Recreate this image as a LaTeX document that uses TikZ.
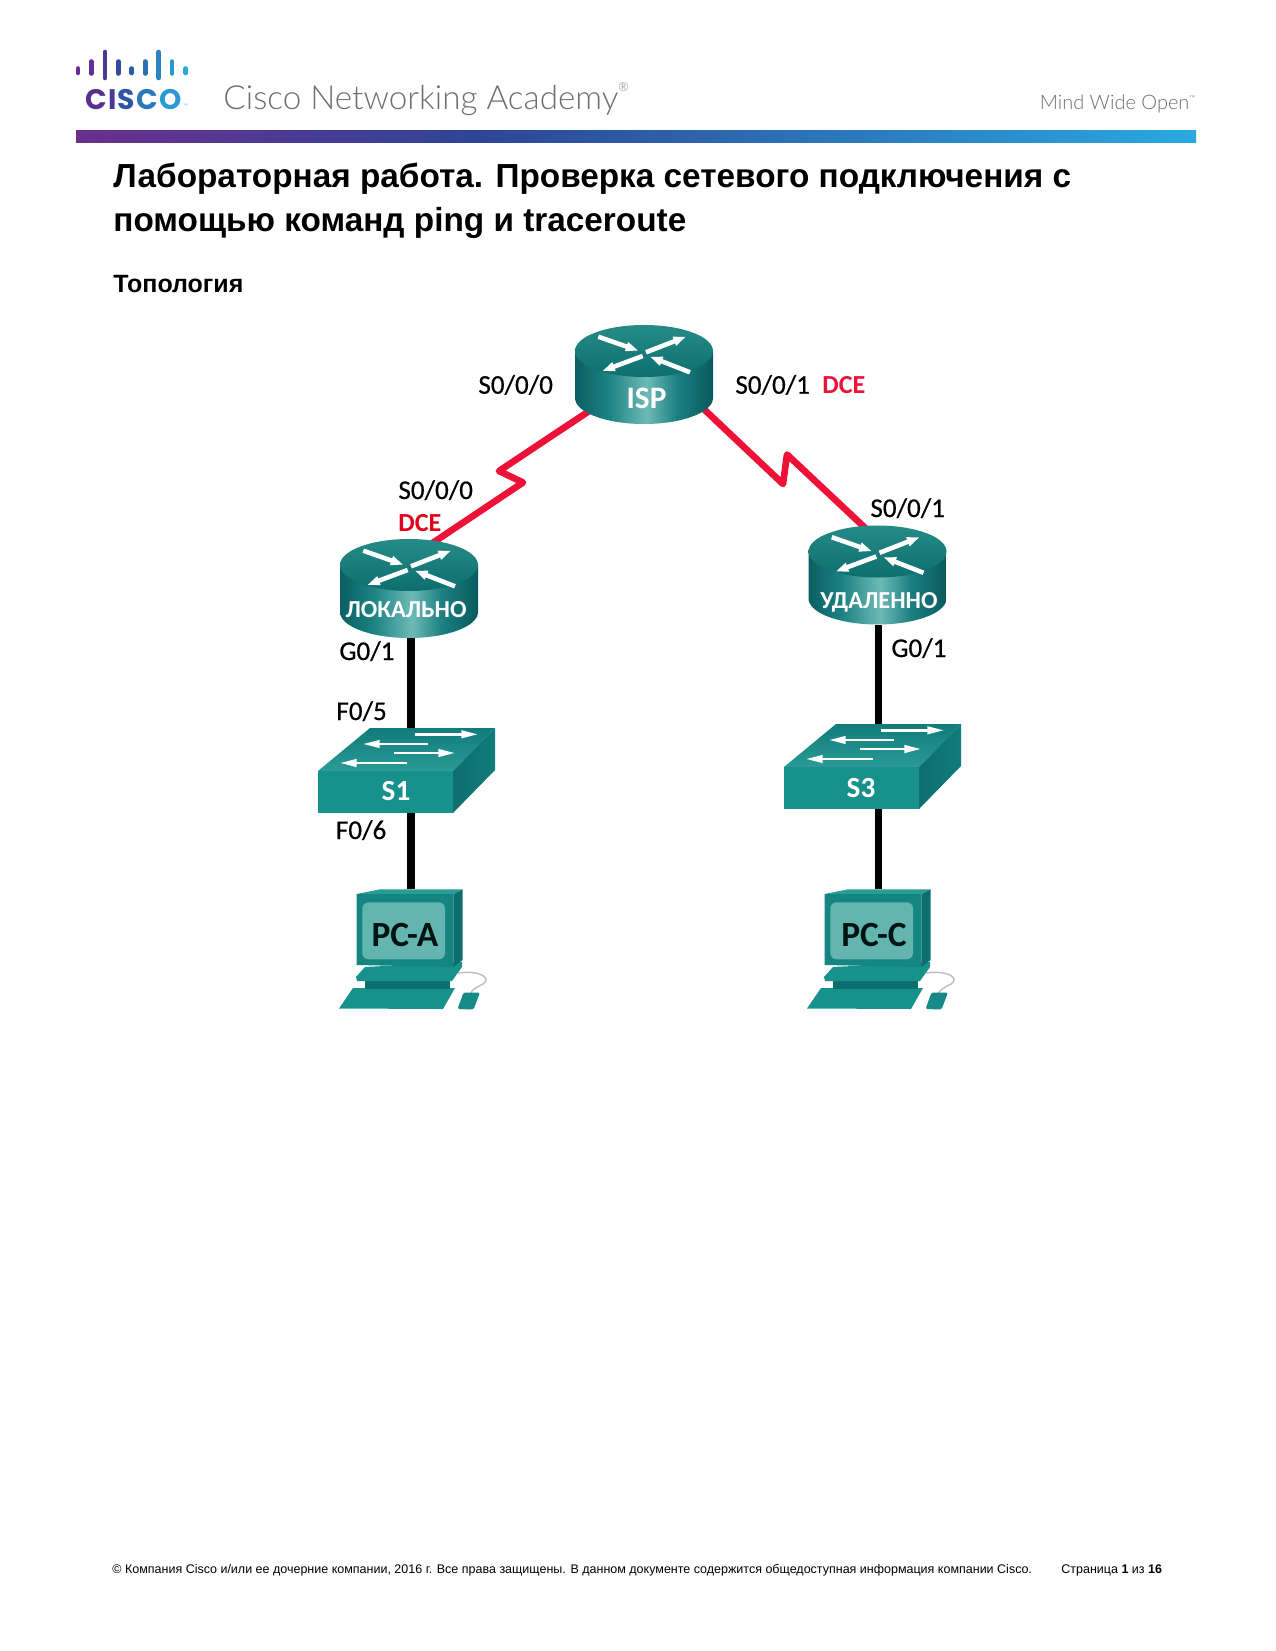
\documentclass[tikz,border=0pt]{standalone}
\usepackage{fontspec}
\setmainfont{Liberation Sans}
\newfontfamily\lab{Carlito}
\newfontfamily\labm[FakeBold=0.5]{Carlito}
\newfontfamily\hdr[UprightFont={* Light}]{Lato}
\newfontfamily\logofont{Poppins}
\usetikzlibrary{arrows.meta,calc}
\definecolor{tealF}{HTML}{17918C}
\definecolor{tealT}{HTML}{2A9B96}
\definecolor{tealD}{HTML}{0D6E6E}
\definecolor{redW}{HTML}{EE1238}
\definecolor{redL}{HTML}{E2001A}
\definecolor{hdrgray}{HTML}{6D6E71}
\definecolor{HTMLa}{HTML}{6B2F8E}
\definecolor{HTMLb}{HTML}{2E4595}
\definecolor{HTMLc}{HTML}{2AA9E0}
\definecolor{HTMLscreen}{HTML}{64B5B0}
\pgfdeclarehorizontalshading{barshade}{100bp}{color(0bp)=(HTMLa);color(25bp)=(HTMLa);color(43bp)=(HTMLb);color(75bp)=(HTMLc);color(100bp)=(HTMLc)}
\definecolor{rs1}{HTML}{0B5F63}
\definecolor{rs2}{HTML}{1B8282}
\definecolor{rs3}{HTML}{6DBAB7}
\definecolor{rs4}{HTML}{1B7F80}
\definecolor{rs5}{HTML}{0A5A5E}
\pgfdeclarehorizontalshading{routerside}{100bp}{color(0bp)=(rs1);color(25bp)=(rs1);color(37bp)=(rs2);color(51bp)=(rs3);color(62bp)=(rs4);color(75bp)=(rs5);color(100bp)=(rs5)}
\tikzset{
  devbox/.style={inner sep=0pt,outer sep=0pt},
  wan/.style={draw=redW,line width=3.2pt,line join=round,line cap=round},
  lan/.style={draw=black,line width=3.8pt},
  portlabel/.style={inner sep=0pt,anchor=base west,font=\labm\fontsize{13}{15}\selectfont,text=black},
  dcelabel/.style={inner sep=0pt,anchor=base west,font=\lab\bfseries\fontsize{12.5}{15}\selectfont,text=redW},
  devlabel/.style={inner sep=0pt,font=\lab\bfseries\fontsize{11.7}{15}\selectfont,text=white},
  pclabel/.style={inner sep=0pt,font=\lab\bfseries\fontsize{17}{19}\selectfont,text=black!85!teal},
  rarrow/.style={white,line width=2.2pt,-{Triangle[length=6pt,width=4.2pt]}},
  sarrow/.style={white,line width=1.2pt,-{Triangle[length=8pt,width=3.6pt]}},
  router/.pic={
    \shade[shading=routerside] (-69,26) -- (-69,73) arc[start angle=180,end angle=0,x radius=69,y radius=26] -- (69,26) -- cycle;
    \shade[top color=tealT!90!black,bottom color=tealD] (0,26) ellipse[x radius=69,y radius=26];
    \draw[rarrow] (-45.7,11.7) -- (-5.7,25.7);
    \draw[rarrow] (2,27.3) -- (42,11.7);
    \draw[rarrow] (-1.3,31) -- (-41.7,46);
    \draw[rarrow] (46,47.3) -- (6,31.7);
  },
  switch/.pic={
    \fill[tealF] (0,0) rectangle (135,42);
    \shade[top color=tealD!60!tealF,bottom color=tealT] (0,0) -- (52,-43) -- (177,-43) -- (135,0) -- cycle;
    \shade[left color=tealD,right color=tealD!60!tealF] (135,0) -- (177,-43) -- (177,-1) -- (135,42) -- cycle;
    \draw[sarrow] (97,-36.7) -- (160,-36.7);
    \draw[sarrow] (110,-27) -- (45,-27);
    \draw[sarrow] (76,-18) -- (137,-18);
    \draw[sarrow] (89,-8) -- (22,-8);
  },
  desktop/.pic={
    % cable
    \draw[black!25,line width=0.7pt] (138,103) .. controls (160,100) and (172,108) .. (163,114) .. controls (155,118) and (152,120) .. (150,124);
    % keyboard, neck, plate
    \fill[tealF] (19,138.5) -- (33,118) -- (135,118) -- (123,139) -- cycle;
    \fill[tealD] (45,110) rectangle (130,118.5);
    \fill[tealF] (36,107) -- (45,97) -- (142,92) -- (142,97) -- (132,111) -- (37,111) -- cycle;
    % monitor
    \fill[tealD] (133.3,24) -- (142.7,19.3) -- (142.7,90) -- (133.3,97) -- cycle;
    \fill[tealT] (36.7,24) -- (60,19.3) -- (142.7,19.3) -- (133.3,24) -- cycle;
    \fill[tealF!92!black] (36.7,24) -- (133.3,24) -- (133.3,97) -- (36.7,95) -- cycle;
    \fill[HTMLscreen,rounded corners=3pt] (42.3,32.3) rectangle (125,89.3);
    % mouse
    \fill[tealF!80!tealD,rounded corners=1pt] (137.5,139) -- (143.5,122.5) -- (160,122.5) -- (153.5,139.5) -- cycle;
  },
}
\begin{document}
\begin{tikzpicture}[x=0.48pt,y=-0.48pt]
\useasboundingbox (0,0) rectangle (1275,1651);
\fill[white] (0,0) rectangle (1275,1651);

% ---- header ----
\foreach \xx/\tt/\bb/\cc in {78/68.5/73/6A2D91,91.3/61.5/73.5/5E3193,105/52/78/4C3896,118.3/61.5/73.5/334A9F,131.7/68.5/73/2C5AA8,145.3/61.5/73.5/2A70B4,158.7/52/78/2A84C2,172/61.5/73.5/2A97D0,185.7/68.5/73/2AA8DE}{
  \definecolor{tmpbar}{HTML}{\cc}
  \draw[tmpbar,line width=2.2pt,line cap=round] (\xx,\tt) -- (\xx,\bb);
}
\definecolor{lc1}{HTML}{5A2F90}\definecolor{lc2}{HTML}{4A3A96}\definecolor{lc3}{HTML}{2E55A5}\definecolor{lc4}{HTML}{2A78BB}\definecolor{lc5}{HTML}{2A9AD5}
\node[inner sep=0pt,anchor=base west,font=\logofont\bfseries\fontsize{13.6}{15}\selectfont] (ciscoword) at (85,109.5) {\textcolor{lc1}{C}\kern0.63pt\textcolor{lc2}{I}\kern0.63pt\textcolor{lc3}{S}\kern0.63pt\textcolor{lc4}{C}\kern0.63pt\textcolor{lc5}{O}};
\node[inner sep=0pt,anchor=base west,font=\hdr\fontsize{3}{4}\selectfont,text=lc5] (ciscotm) at (183,109) {™};
\node[inner sep=0pt,anchor=base west,font=\hdr\fontsize{15.95}{18}\selectfont,text=hdrgray] (academy) at (223,110) {Cisco Networking Academy\raisebox{1.1ex}{\fontsize{6}{7}\selectfont®}};
\node[inner sep=0pt,anchor=base east,font=\hdr\fontsize{9.6}{12}\selectfont,text=hdrgray] (mwo) at (1196,110) {Mind Wide Open\raisebox{0.9ex}{\fontsize{4}{5}\selectfont™}};
\shade[shading=barshade] (76,130.5) rectangle (1196,142.5);

% ---- titles ----
\node[inner sep=0pt,anchor=base west,font=\bfseries\fontsize{16}{21}\selectfont] (title1) at (113,188) {Лабораторная работа. Проверка сетевого подключения с};
\node[inner sep=0pt,anchor=base west,font=\bfseries\fontsize{16}{21}\selectfont] (title2) at (113,231.5) {помощью команд ping и traceroute};
\node[inner sep=0pt,anchor=base west,font=\bfseries\fontsize{12}{14}\selectfont] (topo) at (113,292.5) {Топология};

% ---- device boxes ----
\node[devbox,minimum width=66.24pt,minimum height=47.5pt] (isp) at (644,374.5) {};
\node[devbox,minimum width=67.2pt,minimum height=47.5pt] (loc) at (411,588.5) {};
\node[devbox,minimum width=66.72pt,minimum height=48pt] (rem) at (878.5,575) {};
\node[devbox,minimum width=85pt,minimum height=40.8pt] (s1) at (406.5,770.5) {};
\node[devbox,minimum width=85pt,minimum height=40.8pt] (s3) at (872.5,766.5) {};
\node[devbox,minimum width=62pt,minimum height=36pt] (pca) at (400,926.5) {};
\node[devbox,minimum width=62pt,minimum height=36pt] (pcc) at (868,926.5) {};

% ---- connectors ----
\coordinate (zl1) at (499,471);
\coordinate (zl2) at (523,482.5);
\coordinate (zr1) at (783,484);
\coordinate (zr2) at (787,454.5);
\draw[wan] (isp.center) -- (zl1) -- (zl2) -- ($(loc.north)+(20,5)$);
\draw[wan] ($(isp.center)+(46,21.5)$) -- (zr1) -- (zr2) -- ($(rem.north)+(-8.5,7.5)$);
\draw[lan] (loc.south) -- (loc.south |- s1.north);
\draw[lan] (loc.south |- s1.south) -- (loc.south |- pca.north);
\draw[lan] (rem.south) -- (rem.south |- s3.north);
\draw[lan] (rem.south |- s3.south) -- (rem.south |- pcc.north);

% ---- device art ----
\pic at (644,325) {router};
\pic at (409,539) {router};
\pic at (877.5,525.5) {router};
\pic at (318,771) {switch};
\pic at (784,767) {switch};
\pic at (320,870) {desktop};
\pic at (788,870) {desktop};

% ---- device labels ----
\node[devlabel,font=\lab\bfseries\fontsize{15}{17}\selectfont] (ispname) at (646.5,398.5) {ISP};
\node[devlabel] (locname) at (406,610) {ЛОКАЛЬНО};
\node[devlabel] (remname) at (879,602) {УДАЛЕННО};
\node[devlabel,font=\lab\bfseries\fontsize{14}{16}\selectfont] (s1name) at (396,791.5) {S1};
\node[devlabel,font=\lab\bfseries\fontsize{14}{16}\selectfont] (s3name) at (861,788) {S3};
\node[pclabel] (pcaname) at (405,935) {PC-A};
\node[pclabel] (pccname) at (874,935) {PC-C};

% ---- port labels ----
\node[portlabel] (p1) at (478,393.7) {S0/0/0};
\node[portlabel] (p2) at (398,499) {S0/0/0};
\node[dcelabel,text=redL] (d1) at (398,531) {DCE};
\node[portlabel] (p3) at (735,393.7) {S0/0/1};
\node[dcelabel] (d2) at (822,393.7) {DCE};
\node[portlabel] (p4) at (870,517) {S0/0/1};
\node[portlabel] (p5) at (339,660) {G0/1};
\node[portlabel] (p6) at (891,657) {G0/1};
\node[portlabel] (p7) at (336,720) {F0/5};
\node[portlabel] (p8) at (335.5,839) {F0/6};

% ---- footer ----
\node[inner sep=0pt,anchor=base west,font=\fontsize{6}{8}\selectfont] (foot) at (112,1573.5) {© Компания Cisco и/или ее дочерние компании, 2016 г. Все права защищены. В данном документе содержится общедоступная информация компании Cisco.};
\node[inner sep=0pt,anchor=base west,font=\fontsize{6}{8}\selectfont] (pageno) at (1061,1573.5) {Страница \textbf{1} из \textbf{16}};
\end{tikzpicture}
\end{document}
